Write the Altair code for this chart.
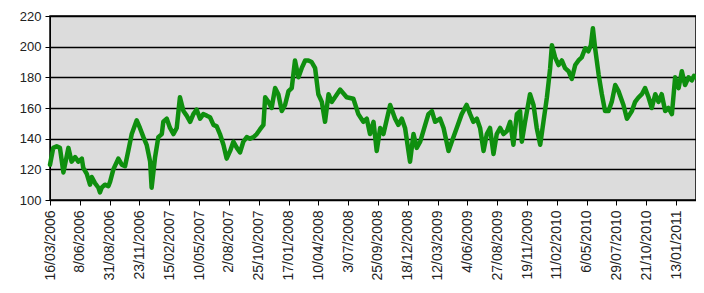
import altair as alt
import pandas as pd

# week offset from 16/03/2006 and index value
weeks = [0.0, 1.3, 2.7, 4.0, 5.4, 7.4, 8.7, 10.1, 11.4, 12.8, 13.4, 14.8, 16.1, 16.8, 18.1,
         19.5, 20.1, 20.8, 22.1, 23.5, 24.2, 25.5, 27.5, 28.9, 30.2, 31.5, 32.9, 34.9, 36.2,
         37.6, 38.9, 40.3, 40.9, 42.3, 43.6, 45.0, 45.6, 47.0, 48.3, 49.7, 51.0, 52.3, 53.7,
         55.0, 56.4, 57.7, 59.0, 60.4, 61.7, 63.1, 64.4, 65.8, 67.1, 68.4, 69.8, 71.1, 72.5,
         73.8, 75.2, 76.5, 77.8, 79.2, 80.5, 81.9, 83.2, 84.5, 85.9, 86.6, 87.9, 89.2, 90.6,
         91.9, 93.3, 94.6, 96.0, 97.3, 98.6, 100.0, 101.3, 102.7, 104.0, 105.3, 106.7, 108.0,
         109.4, 110.7, 112.1, 113.4, 114.7, 116.8, 119.4, 122.1, 124.1, 126.1, 127.5, 128.8,
         130.2, 131.5, 132.9, 134.2, 136.9, 138.9, 140.2, 141.6, 142.9, 144.9, 146.3, 147.6,
         149.0, 151.0, 152.3, 153.7, 155.0, 157.0, 158.4, 160.4, 161.7, 163.7, 165.7, 167.7,
         169.1, 170.4, 171.8, 173.1, 174.5, 175.8, 177.1, 178.5, 179.8, 181.2, 182.5, 183.9,
         185.2, 186.5, 187.9, 189.2, 189.9, 191.2, 193.2, 194.6, 195.9, 197.3, 198.6, 200.0,
         201.3, 202.0, 203.3, 204.7, 206.0, 207.3, 208.7, 210.0, 211.4, 212.7, 214.0, 215.4,
         216.7, 217.7, 218.5, 219.4, 220.8, 222.1, 223.4, 224.8, 226.1, 227.5, 228.8, 230.8,
         232.2, 234.2, 235.5, 236.9, 238.2, 239.5, 240.9, 242.2, 243.6, 244.9, 246.2, 247.6,
         248.9, 250.3, 251.6, 253.0, 254.3, 255.6, 257.0, 258.3, 259.2, 260.0]
values = [123, 134, 135, 134, 118, 134, 125, 128, 125, 127, 121, 117, 110, 115, 111,
          108, 105, 108, 110, 109, 112, 120, 127, 123, 122, 132, 143, 152, 147,
          141, 136, 125, 108, 128, 141, 143, 151, 153, 147, 143, 147, 167, 158,
          155, 151, 156, 159, 153, 156, 155, 154, 149, 148, 143, 136, 127, 132,
          138, 134, 131, 138, 141, 140, 141, 143, 146, 149, 167, 164, 160, 173,
          169, 158, 162, 171, 173, 191, 180, 186, 191, 191, 190, 186, 169,
          164, 151, 169, 164, 167, 172, 167, 166, 156, 151, 153, 143,
          151, 132, 147, 143, 162, 153, 149, 153, 147, 125, 143, 134,
          138, 149, 156, 158, 151, 153, 147, 132, 138, 147, 156, 162,
          156, 151, 153, 147, 132, 143, 147, 130, 143, 147, 143, 145,
          151, 136, 156, 158, 138, 151, 169, 162, 147, 136, 151, 167,
          186, 201, 193, 188, 191, 186, 184, 179, 188, 191, 193, 199,
          197, 201, 212, 199, 182, 169, 158, 158, 164, 175, 171, 162,
          153, 158, 164, 167, 169, 173, 167, 160, 169, 164, 169, 158,
          160, 156, 180, 173, 184, 175, 180, 178, 181, 180]

tick_labels = ["16/03/2006", "8/06/2006", "31/08/2006", "23/11/2006", "15/02/2007",
               "10/05/2007", "2/08/2007", "25/10/2007", "17/01/2008", "10/04/2008",
               "3/07/2008", "25/09/2008", "18/12/2008", "12/03/2009", "4/06/2009",
               "27/08/2009", "19/11/2009", "11/02/2010", "6/05/2010", "29/07/2010",
               "21/10/2010", "13/01/2011"]
tick_weeks = [12 * i for i in range(len(tick_labels))]
y_ticks = [100, 120, 140, 160, 180, 200, 220]

df = pd.DataFrame({"week": weeks, "value": values})

label_expr = "[" + ",".join("'%s'" % t for t in tick_labels) + "][round(datum.value / 12)]"

chart = alt.Chart(df).mark_line(
    color="#0f8f0f", strokeWidth=4.5, strokeJoin="round", strokeCap="round"
).encode(
    x=alt.X("week:Q",
            scale=alt.Scale(domain=[0, 260], nice=False, zero=False),
            axis=alt.Axis(values=tick_weeks, labelExpr=label_expr, labelAngle=270,
                          grid=False, title=None, labelFontSize=14, labelPadding=5,
                          tickSize=5, tickColor="black", domainColor="black",
                          labelColor="#222222", labelFont="Liberation Sans",
                          labelOverlap=False, labelBound=False)),
    y=alt.Y("value:Q",
            scale=alt.Scale(domain=[100, 220], nice=False, zero=False),
            axis=alt.Axis(values=y_ticks, title=None, labelFontSize=13, labelPadding=4,
                          tickSize=5, tickColor="black", domainColor="black",
                          gridColor="black", gridWidth=1.5, gridOpacity=1,
                          labelColor="#222222", labelFont="Liberation Sans")),
).properties(
    width=646, height=184,
    autosize=alt.AutoSizeParams(type="none"),
    padding={"left": 42, "top": 8, "right": 0, "bottom": 85},
    background="white",
).configure_view(
    fill="#dcdcdc", stroke="black", strokeWidth=1.5
)

chart.save("out.html", embed_options={"renderer": "svg", "actions": False})
